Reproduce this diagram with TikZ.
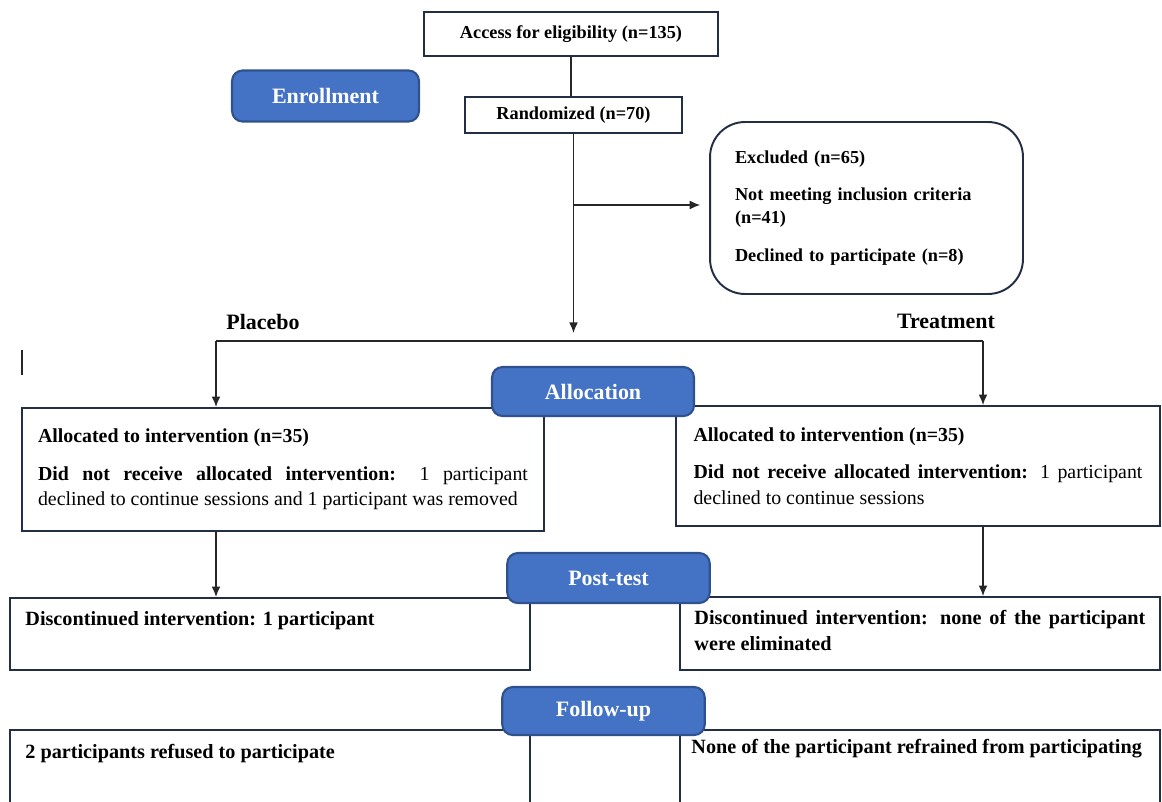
\documentclass[tikz,border=0pt]{standalone}
\usepackage{fontspec}
\setmainfont{Liberation Serif}
\usetikzlibrary{positioning,arrows.meta}
\definecolor{boxblue}{RGB}{68,114,196}
\definecolor{boxedge}{RGB}{47,82,143}
\definecolor{framecol}{RGB}{34,46,68}
\hyphenpenalty=10000
\exhyphenpenalty=10000
\begin{document}
\begin{tikzpicture}[x=0.02cm,y=-0.02cm,
  bluebox/.style={rectangle,rounded corners=6pt,draw=boxedge,line width=1.2pt,fill=boxblue,text=white,font=\fontsize{12.5}{15}\selectfont\bfseries,minimum width=4.05cm,minimum height=0.98cm},
  smallbox/.style={rectangle,draw=framecol,line width=1.1pt,fill=white,font=\fontsize{10.4}{13}\selectfont\bfseries},
  bigbox/.style={rectangle,draw=framecol,line width=1.1pt,fill=white},
  boxtext/.style={font=\fontsize{11.3}{14.5}\selectfont,align=justify,inner sep=0pt},
  armlabel/.style={font=\fontsize{12.5}{15}\selectfont\bfseries},
  line/.style={draw=black!85,line width=0.7pt},
  arr/.style={line,-{Latex[length=6pt,width=5pt]}}]

\clip (0,0) rectangle (1162,801);

\node[smallbox,minimum width=5.88cm,minimum height=0.88cm] (access) at (571,34) {Access for eligibility (n=135)};
\node[smallbox,minimum width=4.34cm,minimum height=0.72cm] (random) at (573.5,115) {Randomized (n=70)};
\node[smallbox,rounded corners=0.7cm,minimum width=6.26cm,minimum height=3.44cm,text width=5.26cm,inner xsep=0.5cm,align=left] (excl) at (866.5,208) {Excluded (n=65)\\[8.5pt]Not meeting inclusion criteria\\(n=41)\\[8.5pt]Declined to participate (n=8)};

\node[armlabel] (placebo) at (263,322) {Placebo};
\node[armlabel] (treat) at (946,321) {Treatment};

% allocation
\node[bigbox,boxtext,text width=9.8cm,inner xsep=0.32cm,minimum width=10.44cm,minimum height=2.46cm] (placA) at (283,469.5) {\textbf{Allocated to intervention (n=35)}\\[7pt]\textbf{Did not receive allocated intervention:} 1 participant\linebreak declined to continue sessions and 1 participant was removed};
\node[bigbox,boxtext,text width=8.98cm,inner xsep=0.35cm,minimum width=9.68cm,minimum height=2.4cm] (treatA) at (918,466) {\textbf{Allocated to intervention (n=35)}\\[7pt]\textbf{Did not receive allocated intervention:} 1 participant declined to continue sessions};

% post-test
\node[bigbox,minimum width=10.4cm,minimum height=1.44cm] (postL) at (270,634) {};
\node[boxtext,font=\fontsize{11.5}{14.5}\selectfont\bfseries,below right=0.28cm and 0.32cm of postL.north west] (postLtxt) {Discontinued intervention: 1 participant};
\node[bigbox,minimum width=9.6cm,minimum height=1.46cm] (postR) at (920,633.5) {};
\node[boxtext,font=\fontsize{11.5}{14.5}\selectfont\bfseries,text width=9.02cm,below right=0.28cm and 0.3cm of postR.north west] (postRtxt) {Discontinued intervention: none of the participant were eliminated};

% follow-up
\node[bigbox,minimum width=10.4cm,minimum height=1.8cm] (folL) at (270,775) {};
\node[boxtext,font=\fontsize{11.5}{14.5}\selectfont\bfseries,below right=0.3cm and 0.32cm of folL.north west] (folLtxt) {2 participants refused to participate};
\node[bigbox,minimum width=9.6cm,minimum height=1.8cm] (folR) at (920,775) {};
\node[boxtext,font=\fontsize{11.5}{14.5}\selectfont\bfseries,below right=0.2cm and 0.24cm of folR.north west] (folRtxt) {None of the participant refrained from participating};

% stage labels
\node[bluebox,minimum width=3.74cm,minimum height=1.02cm] (enroll) at (325.5,96) {Enrollment};
\node[bluebox,minimum width=4.04cm] (alloc) at (593,391.5) {Allocation};
\node[bluebox,minimum height=1.0cm] (post) at (608.5,578) {Post-test};
\node[bluebox,minimum height=0.96cm] (follow) at (603.5,711) {Follow-up};

\coordinate (split) at (573.5,333);
\coordinate (plc) at (216,341);
\coordinate (trc) at (983,341);

\draw[line] (access.south) -- (access.south |- random.north);
\draw[arr] (random.south) -- (split);
\draw[arr,shorten >=5pt] (random.south |- 0,205) -- (excl.west |- 0,205);
\draw[line] (plc) -- (trc);
\draw[arr] (plc) -- (plc |- placA.north);
\draw[arr] (trc) -- (trc |- treatA.north);
\draw[arr] (plc |- placA.south) -- (plc |- postL.north);
\draw[arr] (trc |- treatA.south) -- (trc |- postR.north);
\draw[line] (22,350) -- (22,375);

\end{tikzpicture}
\end{document}
